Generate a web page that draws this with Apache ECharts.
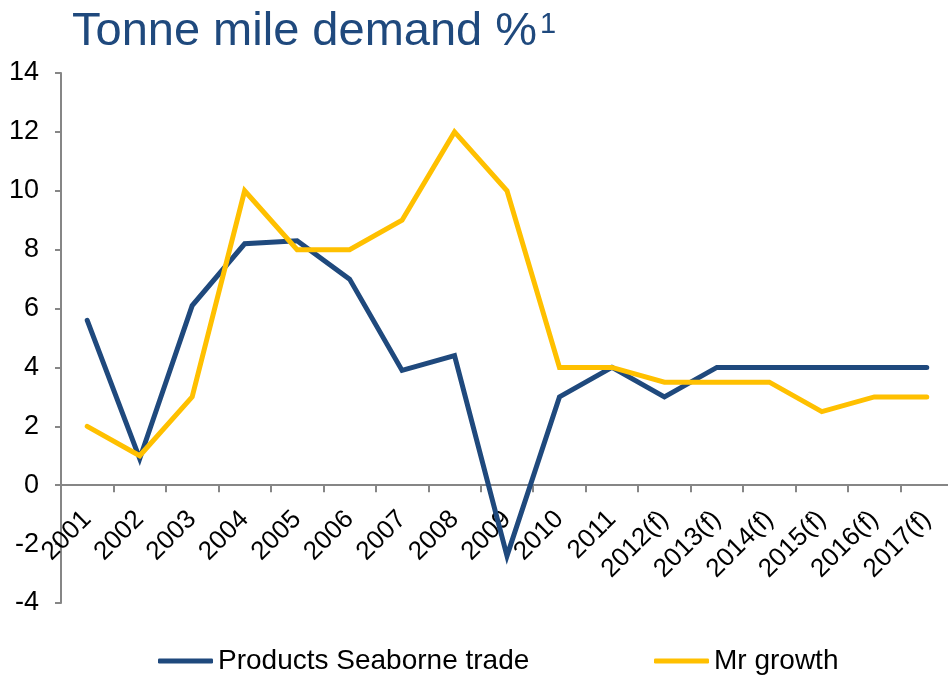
<!DOCTYPE html>
<html>
<head>
<meta charset="utf-8">
<script src="https://cdn.jsdelivr.net/npm/echarts@6/dist/echarts.min.js"></script>
<style>
  html, body { margin: 0; padding: 0; background: #fff; }
  #chart { width: 948px; height: 676px; }
</style>
</head>
<body>
<div id="chart"></div>
<script>
const years = ["2001", "2002", "2003", "2004", "2005", "2006", "2007", "2008", "2009",
  "2010", "2011", "2012(f)", "2013(f)", "2014(f)", "2015(f)", "2016(f)", "2017(f)"];
const seaborneTrade = [5.6, 0.9, 6.1, 8.2, 8.3, 7.0, 3.9, 4.4, -2.4, 3.0, 4.0, 3.0, 4.0, 4.0, 4.0, 4.0, 4.0];
const mrGrowth = [2, 1, 3, 10, 8, 8, 9, 12, 10, 4, 4, 3.5, 3.5, 3.5, 2.5, 3, 3];

const blue = "#1F497D";
const yellow = "#FFC000";
const axisGray = "#868686";
const font = "Liberation Sans, Arial, sans-serif";

const chart = echarts.init(document.getElementById("chart"));

// x axis sits on the zero line: bottom of grid is -4, so lift it by 4/18 of the plot height
const plotTop = 73;
const plotBottom = 73;
const zeroOffset = -(676 - plotTop - plotBottom) * 4 / 18;

chart.setOption({
  animation: false,
  title: {
    left: 72,
    top: 9,
    padding: 0,
    text: "{t|Tonne mile demand %}{s|1}",
    textStyle: {
      rich: {
        t: { fontFamily: font, fontSize: 47, fontWeight: "normal", color: blue },
        s: { fontFamily: font, fontSize: 29, fontWeight: "normal", color: blue, verticalAlign: "top", padding: [1, 0, 0, 3] }
      }
    }
  },
  legend: [
    {
      data: ["Products Seaborne trade"],
      left: 158,
      top: 647,
      padding: 0,
      itemWidth: 55,
      itemHeight: 5,
      icon: "roundRect",
      textStyle: { fontFamily: font, fontSize: 28, color: "#000" }
    },
    {
      data: ["Mr growth"],
      left: 654,
      top: 647,
      padding: 0,
      itemWidth: 55,
      itemHeight: 5,
      icon: "roundRect",
      textStyle: { fontFamily: font, fontSize: 28, color: "#000" }
    }
  ],
  grid: {
    left: 61,
    right: -5,
    top: plotTop,
    bottom: plotBottom,
    containLabel: false,
    outerBoundsMode: "none"
  },
  xAxis: {
    type: "category",
    data: years,
    boundaryGap: true,
    position: "bottom",
    offset: zeroOffset,
    axisLine: { onZero: false, lineStyle: { color: axisGray, width: 2 } },
    axisTick: { show: true, length: 7, lineStyle: { color: axisGray, width: 2 } },
    axisLabel: {
      interval: 0,
      rotate: 45,
      margin: 30,
      fontFamily: font,
      fontSize: 26,
      color: "#000"
    },
    splitLine: { show: false }
  },
  yAxis: {
    type: "value",
    min: -4,
    max: 14,
    interval: 2,
    axisLine: { show: true, lineStyle: { color: axisGray, width: 2 } },
    axisTick: { show: true, length: 6, lineStyle: { color: axisGray, width: 2 } },
    axisLabel: { margin: 22, fontFamily: font, fontSize: 27, color: "#000" },
    splitLine: { show: false }
  },
  series: [
    {
      name: "Products Seaborne trade",
      type: "line",
      data: seaborneTrade,
      showSymbol: false,
      symbol: "none",
      lineStyle: { color: blue, width: 5, cap: "round", join: "miter" },
      itemStyle: { color: blue }
    },
    {
      name: "Mr growth",
      type: "line",
      data: mrGrowth,
      showSymbol: false,
      symbol: "none",
      lineStyle: { color: yellow, width: 5, cap: "round", join: "miter" },
      itemStyle: { color: yellow }
    }
  ]
});
</script>
</body>
</html>
